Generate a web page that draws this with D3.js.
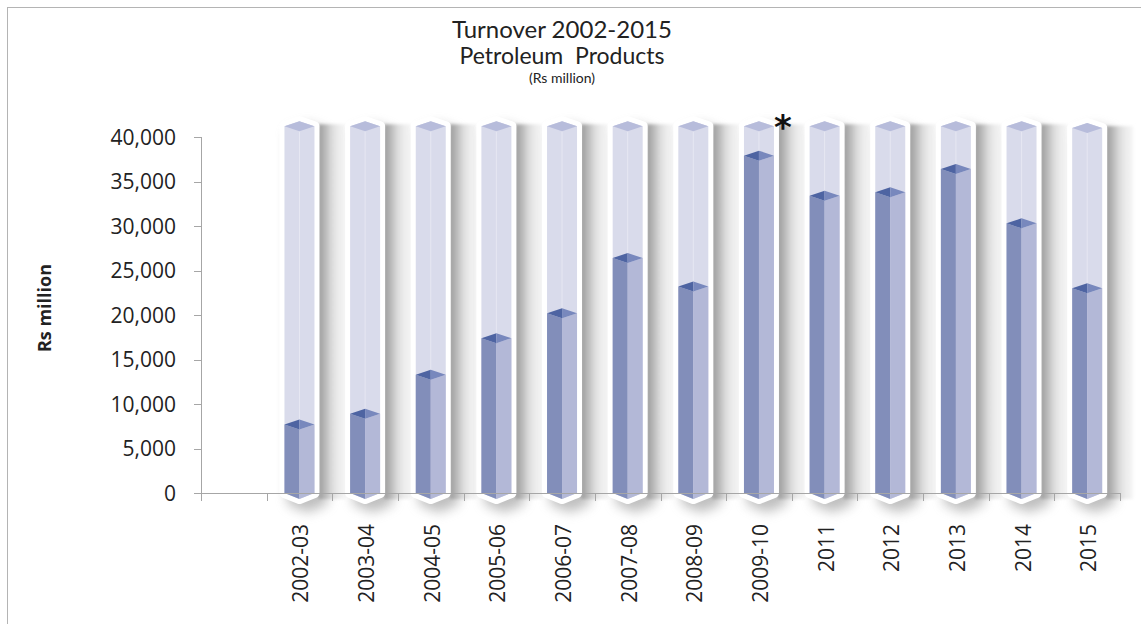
<!DOCTYPE html>
<html>
<head>
<meta charset="utf-8">
<script src="https://cdn.jsdelivr.net/npm/d3@7"></script>
<style>
  html, body { margin: 0; padding: 0; background: #fff; }
  svg { display: block; }
</style>
</head>
<body>
<div id="chart"></div>
<script>
const w = 1141, h = 624;

// data
const categories = ["2002-03", "2003-04", "2004-05", "2005-06", "2006-07", "2007-08", "2008-09", "2009-10", "2011", "2012", "2013", "2014", "2015"];
const turnover = [7700, 8900, 13300, 17400, 20200, 26400, 23200, 37900, 33400, 33800, 36400, 30300, 23000];
const ceiling = [41200, 41200, 41200, 41200, 41200, 41200, 41200, 41200, 41200, 41200, 41200, 41200, 41000];
const yTicks = [0, 5000, 10000, 15000, 20000, 25000, 30000, 35000, 40000];
const starredCategory = "2009-10";

const m = {l: 201, r: 1120, t: 137, b: 493};

const svg = d3.select("#chart").append("svg").attr("width", w).attr("height", h);

const defs = svg.append("defs");
defs.append("filter").attr("id", "shade").attr("x", "-60%").attr("y", "-10%").attr("width", "220%").attr("height", "130%")
  .append("feGaussianBlur").attr("stdDeviation", 6);
defs.append("filter").attr("id", "soft").attr("x", "-20%").attr("y", "-10%").attr("width", "140%").attr("height", "120%")
  .append("feGaussianBlur").attr("stdDeviation", 1.5);
const grad = defs.append("linearGradient").attr("id", "strip").attr("x1", 0).attr("x2", 1).attr("y1", 0).attr("y2", 0);
[[0, "#9b9b9b"], [0.25, "#b9b9b9"], [0.5, "#dcdcdc"], [0.75, "#ededed"], [1, "#f6f6f6"]]
  .forEach(([o, c]) => grad.append("stop").attr("offset", o).attr("stop-color", c));

// outer frame
svg.append("rect")
  .attr("x", 7.5).attr("y", 7.5).attr("width", w + 20).attr("height", h + 20)
  .attr("fill", "none").attr("stroke", "#b4b4b4");

// first slot of the axis is empty
const x = d3.scaleBand().domain([""].concat(categories)).range([m.l, m.r]).padding(0);
const y = d3.scaleLinear().domain([0, 40000]).range([m.b, m.t]);

const hw = 15, dh = 5;
const line = d3.line();

function column(cx, top) {
  const B = y(0);
  return line([[cx - hw, top], [cx, top - dh], [cx + hw, top], [cx + hw, B], [cx, B + dh + 1], [cx - hw, B]]) + "Z";
}

const data = categories.map((c, i) => ({cat: c, v: turnover[i], top: ceiling[i], cx: x(c) + x.bandwidth() / 2}));

const bars = svg.append("g").selectAll("g").data(data).join("g");

// soft shadow below and around
bars.append("path")
  .attr("d", d => column(d.cx, y(d.top)))
  .attr("transform", "translate(8,8)")
  .attr("fill", "#8a8a8a").attr("stroke", "#8a8a8a").attr("stroke-width", 10).attr("stroke-linejoin", "round")
  .attr("opacity", 0.55)
  .attr("filter", "url(#shade)");

// shaded strip to the right of each column
bars.append("rect")
  .attr("x", d => d.cx + hw + 4).attr("width", 27)
  .attr("y", d => y(d.top) - 2).attr("height", d => y(0) - y(d.top) + 8)
  .attr("fill", "url(#strip)")
  .attr("filter", "url(#soft)");

// axes lines
const axisCol = "#a6a6a6";
svg.append("line").attr("x1", m.l + 0.5).attr("x2", m.l + 0.5).attr("y1", m.t).attr("y2", m.b + 7)
  .attr("stroke", axisCol);
svg.append("line").attr("x1", m.l).attr("x2", m.r).attr("y1", m.b + 0.5).attr("y2", m.b + 0.5)
  .attr("stroke", axisCol);

svg.append("g").selectAll("line").data(yTicks).join("line")
  .attr("x1", m.l - 7).attr("x2", m.l).attr("y1", d => Math.round(y(d)) + 0.5).attr("y2", d => Math.round(y(d)) + 0.5)
  .attr("stroke", axisCol);

svg.append("g").selectAll("line").data(x.domain().concat(["end"])).join("line")
  .attr("x1", (d, i) => Math.round(m.l + i * x.bandwidth()) + 0.5)
  .attr("x2", (d, i) => Math.round(m.l + i * x.bandwidth()) + 0.5)
  .attr("y1", m.b).attr("y2", m.b + 8)
  .attr("stroke", axisCol);

svg.append("g").selectAll("text").data(yTicks).join("text")
  .attr("x", 176).attr("y", d => y(d)).attr("dy", "0.36em")
  .attr("text-anchor", "end")
  .attr("font-family", "Open Sans").attr("font-size", 21).attr("fill", "#222")
  .text(d => d3.format(",")(d));

// white outline
bars.append("path")
  .attr("d", d => column(d.cx, y(d.top)))
  .attr("fill", "#fff").attr("stroke", "#fff").attr("stroke-width", 10).attr("stroke-linejoin", "round");

// empty glass column
bars.append("path")
  .attr("d", d => column(d.cx, y(d.top)))
  .attr("fill", "#d9dbeb");
bars.append("line")
  .attr("x1", d => d.cx).attr("x2", d => d.cx).attr("y1", d => y(d.top) + dh).attr("y2", d => y(d.v))
  .attr("stroke", "#e6e7f2").attr("stroke-width", 1);
bars.append("path")
  .attr("d", d => { const t = y(d.top); return line([[d.cx - hw, t], [d.cx, t - dh], [d.cx + hw, t], [d.cx, t + dh]]) + "Z"; })
  .attr("fill", "#b7bcdb");

// filled value
bars.append("path")
  .attr("d", d => { const t = y(d.v), B = y(0); return line([[d.cx - hw, t], [d.cx, t + dh], [d.cx, B + dh + 1], [d.cx - hw, B]]) + "Z"; })
  .attr("fill", "#828eba");
bars.append("path")
  .attr("d", d => { const t = y(d.v), B = y(0); return line([[d.cx, t + dh], [d.cx + hw, t], [d.cx + hw, B], [d.cx, B + dh + 1]]) + "Z"; })
  .attr("fill", "#b3b8d7");
bars.append("path")
  .attr("d", d => { const t = y(d.v); return line([[d.cx - hw, t], [d.cx, t - dh], [d.cx, t + dh]]) + "Z"; })
  .attr("fill", "#4e64a2");
bars.append("path")
  .attr("d", d => { const t = y(d.v); return line([[d.cx, t - dh], [d.cx + hw, t], [d.cx, t + dh]]) + "Z"; })
  .attr("fill", "#7888bd");

// category labels
svg.append("g").selectAll("text").data(data).join("text")
  .attr("transform", d => `translate(${d.cx + 9},524) rotate(-90)`)
  .attr("text-anchor", "end")
  .attr("font-family", "Open Sans").attr("font-size", 21).attr("fill", "#222")
  .text(d => d.cat);

// asterisk on 2009-10
const star = data.find(d => d.cat === starredCategory);
svg.append("text")
  .attr("x", star.cx + 24).attr("y", y(star.top) + 13)
  .attr("text-anchor", "middle")
  .attr("font-family", "DejaVu Sans").attr("font-weight", "bold").attr("font-size", 34).attr("fill", "#111")
  .text("*");

// axis title
svg.append("text")
  .attr("transform", "translate(51,308) rotate(-90)")
  .attr("text-anchor", "middle")
  .attr("font-family", "Open Sans").attr("font-weight", "bold").attr("font-size", 18).attr("fill", "#222")
  .text("Rs million");

// titles
const title = svg.append("g").attr("text-anchor", "middle").attr("font-family", "Lato").attr("fill", "#222");
title.append("text").attr("x", 562).attr("y", 38).attr("font-size", 24).text("Turnover 2002-2015");
title.append("text").attr("x", 562).attr("y", 64).attr("font-size", 23).attr("xml:space", "preserve").text("Petroleum  Products");
title.append("text").attr("x", 562).attr("y", 83).attr("font-size", 14).text("(Rs million)");
</script>
</body>
</html>
